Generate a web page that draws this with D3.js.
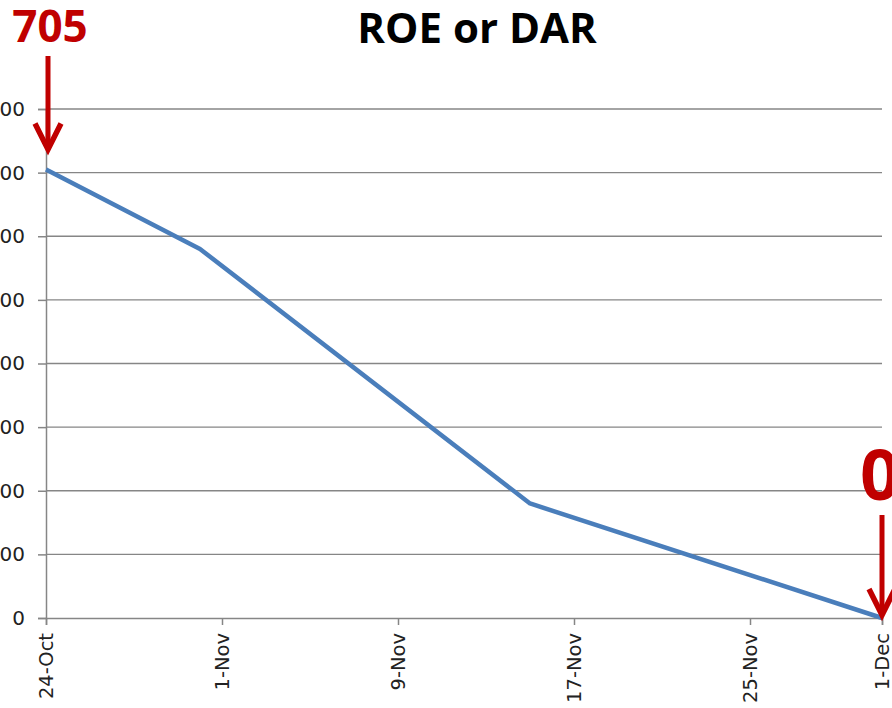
<!DOCTYPE html>
<html>
<head>
<meta charset="utf-8">
<script src="https://cdn.jsdelivr.net/npm/d3@7"></script>
<style>
  html, body { margin: 0; padding: 0; background: #fff; }
  svg { display: block; }
</style>
</head>
<body>
<div id="chart"></div>
<script>
// chart data
var dates = ["24-Oct-2013", "31-Oct-2013", "15-Nov-2013", "1-Dec-2013"];
var values = [705, 580, 180, 0];
var tickDates = ["24-Oct-2013", "1-Nov-2013", "9-Nov-2013", "17-Nov-2013", "25-Nov-2013", "1-Dec-2013"];
var yTicks = [0, 100, 200, 300, 400, 500, 600, 700, 800];
var title = "ROE or DAR";
var callouts = ["705", "0"];

var W = 892, H = 708;
var red = "#c00000", blue = "#4a7ebb", grey = "#868686";

var parse = d3.utcParse("%d-%b-%Y");
var fmt = d3.utcFormat("%-d-%b");
var points = dates.map(function(d, i) { return { date: parse(d), value: values[i] }; });

var svg = d3.select("#chart").append("svg")
    .attr("width", W)
    .attr("height", H);

// plot area
var x = d3.scaleUtc()
    .domain([parse(tickDates[0]), parse(tickDates[tickDates.length - 1])])
    .range([46, 882]);
var y = d3.scaleLinear()
    .domain([0, 800])
    .range([618, 109]);

// gridlines
svg.append("g")
    .selectAll("line")
    .data(yTicks.slice(1)).enter()
    .append("line")
    .attr("x1", 46).attr("x2", 882)
    .attr("y1", function(d) { return y(d); })
    .attr("y2", function(d) { return y(d); })
    .attr("stroke", grey)
    .attr("stroke-width", 1.4);

// y axis (the labels run off the left edge, as in the original crop)
var yAxis = svg.append("g")
    .attr("transform", "translate(46,0)")
    .call(d3.axisLeft(y).tickValues(yTicks).tickSize(8).tickPadding(13));
yAxis.selectAll("text")
    .attr("font-family", "DejaVu Sans")
    .attr("font-size", "20px")
    .attr("fill", "#222");

// x axis
var xAxis = svg.append("g")
    .attr("transform", "translate(0,618)")
    .call(d3.axisBottom(x).tickValues(tickDates.map(parse)).tickFormat(fmt).tickSize(7));
xAxis.selectAll("text")
    .attr("font-family", "DejaVu Sans")
    .attr("font-size", "19.5px")
    .attr("fill", "#222")
    .attr("text-anchor", "end")
    .attr("dy", "0.35em")
    .attr("transform", "translate(0,15) rotate(-90)")
    .attr("x", 0).attr("y", 0);

[yAxis, xAxis].forEach(function(a) {
    a.select(".domain").attr("stroke", grey).attr("stroke-width", 1.5);
    a.selectAll(".tick line").attr("stroke", grey).attr("stroke-width", 1.5);
});

// series line
var line = d3.line()
    .x(function(d) { return x(d.date); })
    .y(function(d) { return y(d.value); });

svg.append("path")
    .datum(points)
    .attr("d", line)
    .attr("fill", "none")
    .attr("stroke", blue)
    .attr("stroke-width", 4.5)
    .attr("stroke-linejoin", "round");

// title
svg.append("text")
    .attr("x", 477)
    .attr("y", 43)
    .attr("text-anchor", "middle")
    .attr("font-family", "Open Sans")
    .attr("font-weight", "bold")
    .attr("font-size", "42px")
    .attr("fill", "#000")
    .text(title);

// red call-outs with arrows
function arrow(x0, yTop, yTip) {
    svg.append("line")
        .attr("x1", x0).attr("x2", x0)
        .attr("y1", yTop).attr("y2", yTip - 3)
        .attr("stroke", red)
        .attr("stroke-width", 5);
    svg.append("polyline")
        .attr("points", [[x0 - 13, yTip - 26], [x0, yTip], [x0 + 13, yTip - 26]].join(" "))
        .attr("fill", "none")
        .attr("stroke", red)
        .attr("stroke-width", 5.5)
        .attr("stroke-linejoin", "miter");
}

var first = points[0], last = points[points.length - 1];

svg.append("text")
    .attr("x", x(first.date) + 4)
    .attr("y", 42)
    .attr("text-anchor", "middle")
    .attr("font-family", "Open Sans")
    .attr("font-weight", "bold")
    .attr("font-size", "44px")
    .attr("fill", red)
    .text(callouts[0]);
arrow(x(first.date) + 2, 56, y(first.value) - 20);

svg.append("text")
    .attr("x", 860)
    .attr("y", 500)
    .attr("font-family", "Open Sans")
    .attr("font-weight", "bold")
    .attr("font-size", "70px")
    .attr("fill", red)
    .text(callouts[1]);
arrow(x(last.date), 515, y(last.value) - 3);
</script>
</body>
</html>
